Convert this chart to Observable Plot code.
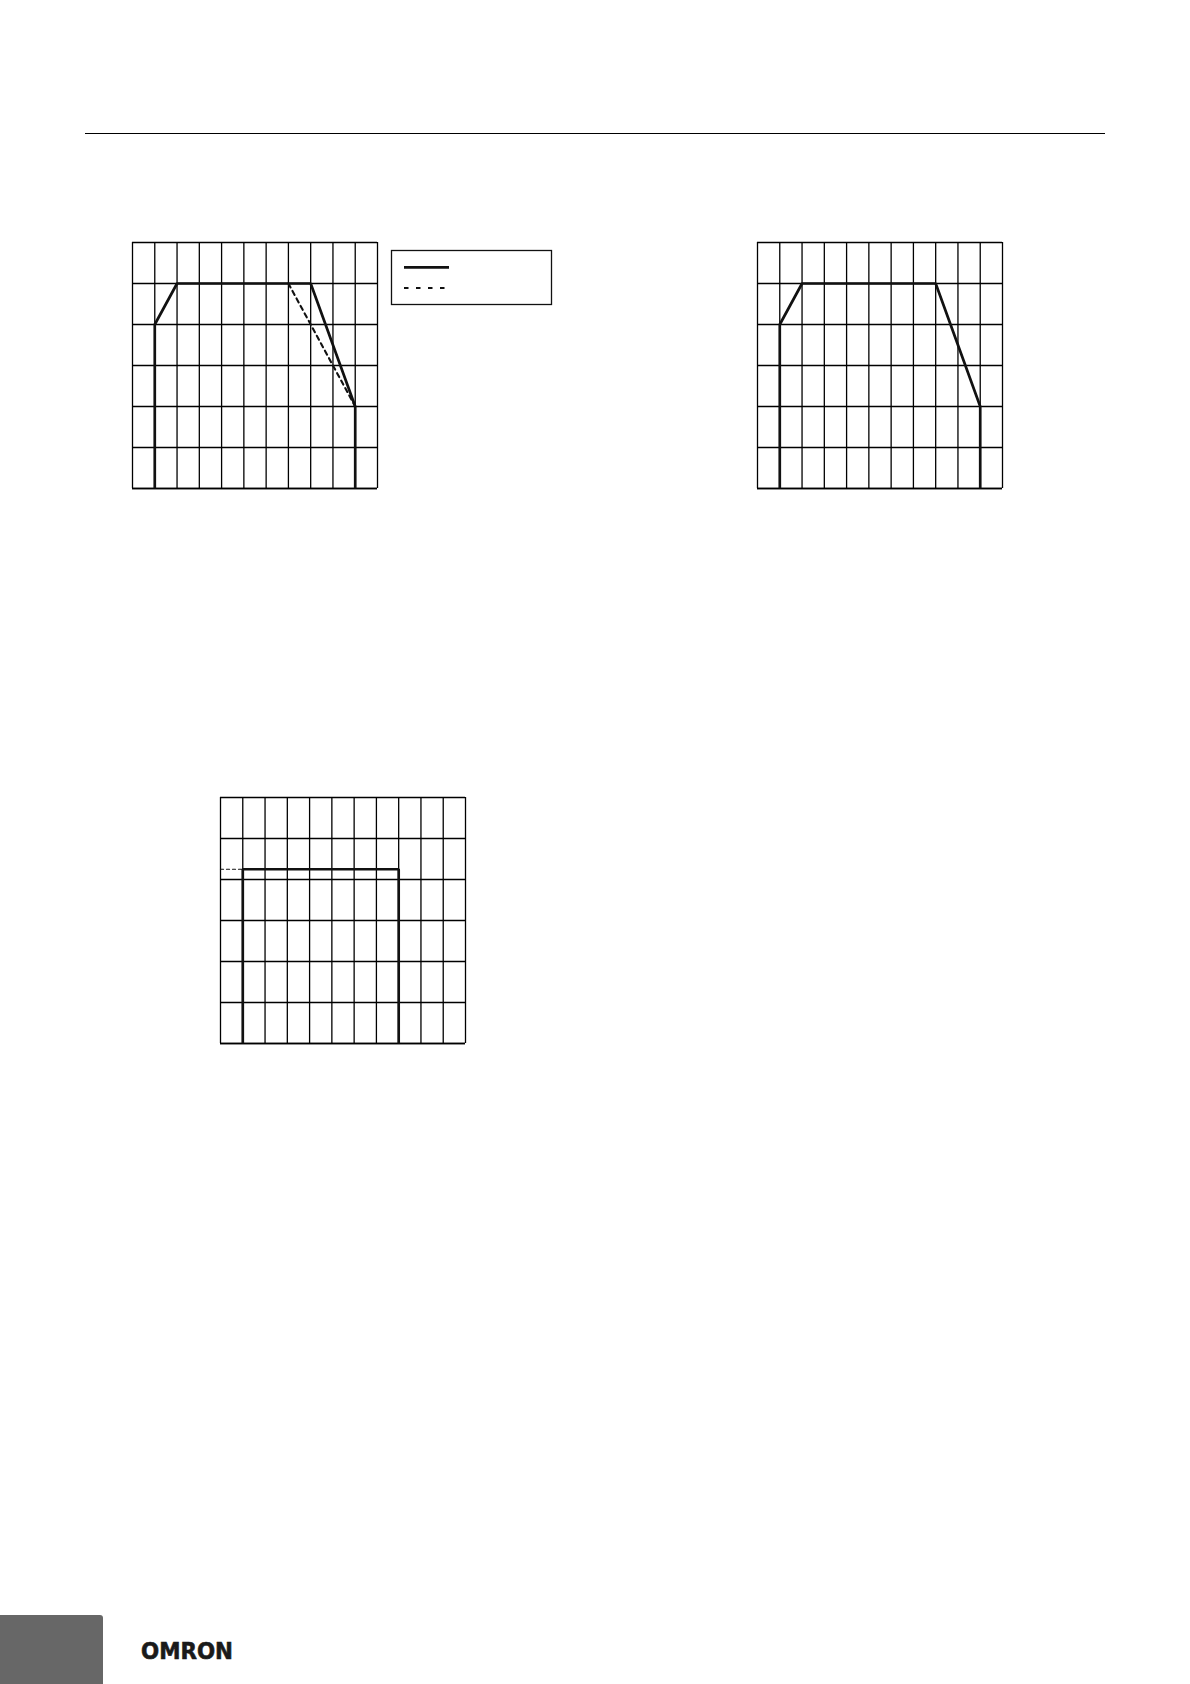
<!DOCTYPE html>
<html>
<head>
<meta charset="utf-8">
<script src="https://cdn.jsdelivr.net/npm/d3@7"></script>
<script src="https://cdn.jsdelivr.net/npm/@observablehq/plot@0.6"></script>
<style>
  html, body { margin: 0; padding: 0; background: #fff; }
  #page { position: relative; width: 1190px; height: 1684px; background: #fff; overflow: hidden; font-family: "DejaVu Sans", sans-serif; }
  .abs { position: absolute; }
  svg { display: block; overflow: visible; }
</style>
</head>
<body>
<div id="page">
  <div class="abs" style="left:85px; top:132.5px; width:1020px; height:1.6px; background:#000;"></div>
  <div id="c1" class="abs"></div>
  <div id="c2" class="abs"></div>
  <div id="c3" class="abs"></div>
  <div class="abs" style="left:391px; top:250px;">
    <svg width="162" height="56">
      <rect x="0.5" y="0.5" width="160" height="54" fill="none" stroke="#111" stroke-width="1.3"></rect>
      <line x1="13" x2="58" y1="17.3" y2="17.3" stroke="#111" stroke-width="2.7"></line>
      <line x1="13" x2="58" y1="38" y2="38" stroke="#111" stroke-width="2" stroke-dasharray="4.5,7.5"></line>
    </svg>
  </div>
  <div class="abs" style="left:0; top:1615px; width:103px; height:69px; background:#676767; border-top-right-radius:3px;"></div>
  <div class="abs" style="left:141px; top:1636px;">
    <svg width="100" height="30">
      <text x="0" y="23" font-family="DejaVu Sans" font-weight="bold" font-size="23" fill="#1a1a1a" stroke="#1a1a1a" stroke-width="0.6" textLength="92" lengthAdjust="spacingAndGlyphs">OMRON</text>
    </svg>
  </div>
</div>
<script>
// Grid positions (11 columns x 6 rows)
const xGrid = [0, 1, 2, 3, 4, 5, 6, 7, 8, 9, 10, 11];
const yGrid = [0, 1, 2, 3, 4, 5, 6];

// Chart 1 (top left): solid and dashed curves
const c1SolidX = [1, 1, 2, 8, 10, 10];
const c1SolidY = [0, 4, 5, 5, 2, 0];
const c1DashX = [7, 10];
const c1DashY = [5, 2];

// Chart 2 (top right): solid curve
const c2SolidX = [1, 1, 2, 8, 10, 10];
const c2SolidY = [0, 4, 5, 5, 2, 0];

// Chart 3 (bottom): rectangle and dashed lead-in
const c3SolidX = [1, 1, 8, 8];
const c3SolidY = [0, 4.25, 4.25, 0];
const c3DashX = [0, 1];
const c3DashY = [4.25, 4.25];

const zip = (xs, ys) => xs.map((x, i) => ({x, y: ys[i]}));

const M = 12;
function chart({solid, dash, dashWidth, dashArray, fw, fh}) {
  const marks = [
    Plot.ruleX(xGrid, {stroke: "#000", strokeWidth: 1.3}),
    Plot.ruleY(yGrid, {stroke: "#000", strokeWidth: 1.3}),
    Plot.ruleY([0], {stroke: "#000", strokeWidth: 1.6})
  ];
  if (dash) marks.push(Plot.line(dash, {x: "x", y: "y", stroke: "#111", strokeWidth: dashWidth, strokeDasharray: dashArray}));
  marks.push(Plot.line(solid, {x: "x", y: "y", stroke: "#111", strokeWidth: 2.7, strokeLinejoin: "miter", strokeLinecap: "butt"}));
  return Plot.plot({
    width: fw + 2 * M,
    height: fh + 2 * M,
    marginTop: M, marginBottom: M, marginLeft: M, marginRight: M,
    x: {domain: [0, 11], axis: null},
    y: {domain: [0, 6], axis: null},
    marks
  });
}

function place(id, left, top, el) {
  const d = document.getElementById(id);
  d.style.left = (left - M) + "px";
  d.style.top = (top - M) + "px";
  d.appendChild(el);
}

place("c1", 132, 242, chart({
  solid: zip(c1SolidX, c1SolidY),
  dash: zip(c1DashX, c1DashY), dashWidth: 2.1, dashArray: "4.5,4",
  fw: 245, fh: 246
}));
place("c2", 757, 242, chart({
  solid: zip(c2SolidX, c2SolidY),
  fw: 245, fh: 246
}));
place("c3", 220, 797, chart({
  solid: zip(c3SolidX, c3SolidY),
  dash: zip(c3DashX, c3DashY), dashWidth: 1.2, dashArray: "3,3",
  fw: 245, fh: 246
}));
</script>
</body>
</html>
